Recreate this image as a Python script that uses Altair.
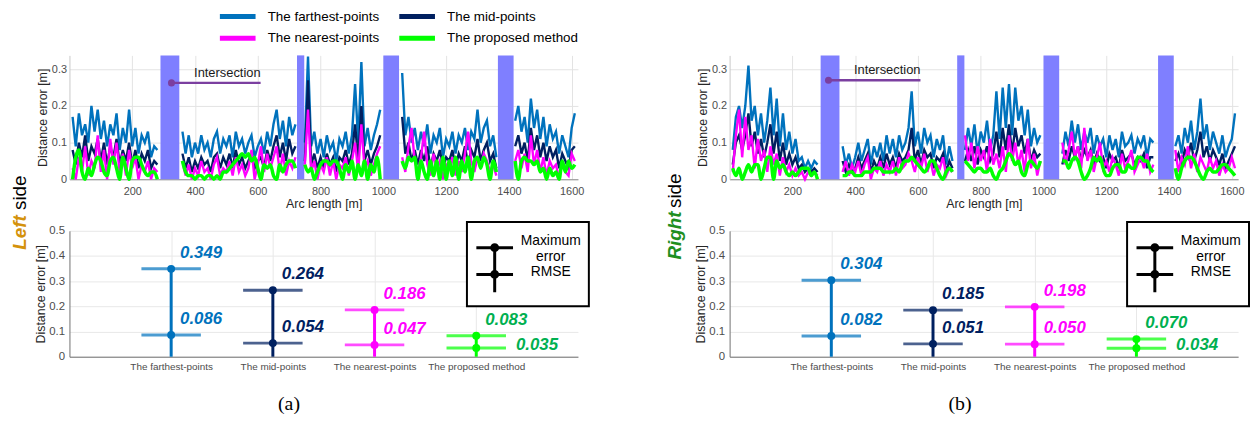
import json
import altair as alt
import pandas as pd

N = None
FONT = "Liberation Sans"

categories = ["The farthest-points", "The mid-points", "The nearest-points", "The proposed method"]
line_colors = ["#0072BD", "#002060", "#FF00FF", "#00FF00"]
label_colors = ["#0072BD", "#002060", "#FF00FF", "#00B050"]

arc_start = 10
arc_step = 10

# ---------------- (a) Left side: distance error along arc length ----------------
left_farthest = [
    0.17, 0.09, 0.18, 0.12, 0.15, 0.10, 0.20, 0.13, 0.19, 0.11,
    0.16, 0.09, 0.15, 0.12, 0.18, 0.08, 0.14, 0.10, 0.19, 0.09,
    0.14, 0.07, 0.12, 0.10, 0.13, 0.06, 0.09, 0.08, N, N,
    N, N, N, N, N, 0.13, 0.07, 0.12, 0.06, 0.10,
    0.07, 0.12, 0.08, 0.10, 0.06, 0.11, 0.13, 0.07, 0.11, 0.09,
    0.12, 0.06, 0.13, 0.09, 0.11, 0.07, 0.10, 0.12, 0.06, 0.09,
    0.11, 0.07, 0.13, 0.09, 0.15, 0.19, 0.11, 0.16, 0.09, 0.17,
    0.12, 0.15, N, N, 0.10, 0.335, 0.09, 0.13, 0.07, 0.11,
    0.06, 0.12, 0.08, 0.10, 0.05, 0.11, 0.09, 0.13, 0.07, 0.12,
    0.26, 0.10, 0.32, 0.09, 0.14, 0.08, 0.12, 0.15, 0.19, N,
    N, N, N, N, N, 0.29, 0.12, 0.17, 0.10, 0.14,
    0.08, 0.13, 0.09, 0.15, 0.07, 0.12, 0.10, 0.14, 0.06, 0.11,
    0.09, 0.13, 0.07, 0.12, 0.10, 0.14, 0.08, 0.13, 0.11, 0.19,
    0.10, 0.14, 0.16, 0.09, 0.12, 0.06, N, N, N, N,
    N, 0.16, 0.20, 0.13, 0.17, 0.10, 0.22, 0.14, 0.19, 0.11,
    0.17, 0.09, 0.15, 0.11, 0.13, 0.07, 0.12, 0.09, 0.06, 0.14,
    0.18,
]
left_mid = [
    0.08, 0.04, 0.10, 0.06, 0.12, 0.05, 0.09, 0.07, 0.11, 0.05,
    0.10, 0.04, 0.09, 0.06, 0.11, 0.04, 0.08, 0.05, 0.10, 0.04,
    0.08, 0.03, 0.07, 0.05, 0.08, 0.03, 0.05, 0.04, N, N,
    N, N, N, N, N, 0.07, 0.03, 0.06, 0.02, 0.05,
    0.03, 0.06, 0.04, 0.05, 0.02, 0.06, 0.07, 0.03, 0.06, 0.04,
    0.07, 0.03, 0.08, 0.04, 0.06, 0.03, 0.05, 0.07, 0.03, 0.05,
    0.06, 0.03, 0.08, 0.05, 0.09, 0.12, 0.06, 0.10, 0.05, 0.11,
    0.07, 0.09, N, N, 0.05, 0.27, 0.04, 0.07, 0.03, 0.06,
    0.03, 0.07, 0.04, 0.06, 0.02, 0.06, 0.05, 0.08, 0.04, 0.07,
    0.15, 0.05, 0.20, 0.05, 0.08, 0.04, 0.07, 0.09, 0.12, N,
    N, N, N, N, N, 0.17, 0.07, 0.10, 0.05, 0.08,
    0.04, 0.08, 0.05, 0.09, 0.03, 0.07, 0.05, 0.08, 0.03, 0.06,
    0.05, 0.08, 0.03, 0.07, 0.05, 0.09, 0.04, 0.08, 0.06, 0.11,
    0.05, 0.08, 0.10, 0.05, 0.07, 0.03, N, N, N, N,
    N, 0.09, 0.12, 0.07, 0.10, 0.05, 0.14, 0.08, 0.12, 0.06,
    0.10, 0.05, 0.09, 0.06, 0.08, 0.03, 0.07, 0.05, 0.03, 0.08,
    0.09,
]
left_nearest = [
    0.03, 0.00, 0.06, 0.02, 0.09, 0.01, 0.05, 0.03, 0.12, 0.02,
    0.08, 0.00, 0.11, 0.04, 0.10, 0.02, 0.07, 0.01, 0.08, 0.03,
    0.06, 0.00, 0.04, 0.02, 0.05, 0.00, 0.03, 0.02, N, N,
    N, N, N, N, N, 0.05, 0.01, 0.04, 0.00, 0.03,
    0.01, 0.05, 0.02, 0.03, 0.00, 0.04, 0.06, 0.01, 0.03, 0.02,
    0.05, 0.01, 0.06, 0.02, 0.04, 0.01, 0.03, 0.08, 0.00, 0.04,
    0.09, 0.02, 0.07, 0.03, 0.06, 0.09, 0.02, 0.07, 0.01, 0.05,
    0.03, 0.06, N, N, 0.04, 0.19, 0.02, 0.05, 0.00, 0.04,
    0.02, 0.06, 0.01, 0.05, 0.00, 0.04, 0.03, 0.06, 0.01, 0.05,
    0.10, 0.02, 0.15, 0.03, 0.05, 0.01, 0.04, 0.07, 0.09, N,
    N, N, N, N, N, 0.06, 0.02, 0.09, 0.14, 0.05,
    0.02, 0.06, 0.13, 0.04, 0.01, 0.07, 0.03, 0.05, 0.00, 0.04,
    0.03, 0.06, 0.01, 0.05, 0.02, 0.07, 0.13, 0.05, 0.02, 0.06,
    0.03, 0.07, 0.05, 0.02, 0.04, 0.01, N, N, N, N,
    N, 0.05, 0.08, 0.03, 0.07, 0.02, 0.12, 0.04, 0.08, 0.02,
    0.06, 0.01, 0.05, 0.03, 0.04, 0.00, 0.05, 0.02, 0.01, 0.07,
    0.05,
]
left_proposed = [
    0.00, 0.06, 0.08, 0.02, 0.00, 0.03, 0.01, 0.04, 0.06, 0.05,
    0.02, 0.01, 0.05, 0.06, 0.03, 0.00, 0.06, 0.03, 0.00, 0.05,
    0.06, 0.06, 0.04, 0.02, 0.01, 0.02, 0.02, 0.00, N, N,
    N, N, N, N, N, 0.05, 0.02, 0.01, 0.01, 0.00,
    0.01, 0.01, 0.00, 0.01, 0.01, 0.00, 0.01, 0.00, 0.02, 0.02,
    0.03, 0.04, 0.05, 0.06, 0.07, 0.06, 0.07, 0.05, 0.06, 0.03,
    0.00, 0.04, 0.03, 0.04, 0.01, 0.00, 0.04, 0.02, 0.04, 0.05,
    0.05, 0.03, N, N, 0.04, 0.02, 0.03, 0.00, 0.02, 0.04,
    0.05, 0.05, 0.04, 0.05, 0.05, 0.03, 0.00, 0.04, 0.02, 0.05,
    0.00, 0.04, 0.01, 0.05, 0.00, 0.04, 0.02, 0.06, 0.00, N,
    N, N, N, N, N, 0.05, 0.03, 0.06, 0.05, 0.06,
    0.00, 0.05, 0.02, 0.00, 0.05, 0.01, 0.05, 0.00, 0.06, 0.00,
    0.05, 0.01, 0.06, 0.00, 0.05, 0.02, 0.06, 0.00, 0.05, 0.06,
    0.03, 0.06, 0.04, 0.00, 0.05, 0.02, N, N, N, N,
    N, 0.05, 0.00, 0.05, 0.06, 0.05, 0.05, 0.04, 0.05, 0.02,
    0.03, 0.00, 0.03, 0.01, 0.02, 0.00, 0.05, 0.02, 0.05, 0.03,
    0.04,
]

# ---------------- (b) Right side ----------------
right_farthest = [
    0.08, 0.17, 0.20, 0.14, 0.20, 0.31, 0.16, 0.20, 0.12, 0.18,
    0.10, 0.16, 0.25, 0.12, 0.22, 0.09, 0.18, 0.08, 0.13, 0.07,
    0.11, 0.05, 0.06, 0.03, 0.05, 0.03, 0.05, 0.04, N, N,
    N, N, N, N, 0.05, 0.09, 0.04, 0.07, 0.03, 0.06,
    0.10, 0.05, 0.08, 0.11, 0.04, 0.09, 0.06, 0.10, 0.05, 0.12,
    0.07, 0.11, 0.06, 0.12, 0.08, 0.10, 0.14, 0.24, 0.09, 0.13,
    0.07, 0.14, 0.10, 0.12, 0.06, 0.11, 0.08, 0.12, 0.04, 0.09,
    0.05, N, N, 0.12, 0.08, 0.14, 0.09, 0.15, 0.07, 0.13,
    0.10, 0.16, 0.08, 0.12, 0.24, 0.11, 0.25, 0.14, 0.26, 0.12,
    0.25, 0.16, 0.20, 0.12, 0.19, 0.09, 0.14, 0.10, 0.12, N,
    N, N, N, N, 0.11, 0.07, 0.13, 0.09, 0.16, 0.10,
    0.15, 0.08, 0.13, 0.10, 0.14, 0.07, 0.12, 0.09, 0.11, 0.06,
    0.12, 0.08, 0.11, 0.06, 0.13, 0.09, 0.10, 0.12, 0.07, 0.11,
    0.09, 0.12, 0.06, 0.11, 0.10, N, N, N, N, N,
    0.15, 0.09, 0.12, 0.07, 0.14, 0.10, 0.16, 0.08, 0.13, 0.22,
    0.11, 0.15, 0.08, 0.13, 0.10, 0.07, 0.12, 0.06, 0.09, 0.11,
    0.18,
]
right_mid = [
    0.04, 0.10, 0.12, 0.08, 0.12, 0.18, 0.09, 0.13, 0.07, 0.11,
    0.06, 0.10, 0.15, 0.07, 0.13, 0.05, 0.10, 0.04, 0.07, 0.04,
    0.06, 0.03, 0.04, 0.02, 0.03, 0.02, 0.03, 0.02, N, N,
    N, N, N, N, 0.03, 0.05, 0.02, 0.04, 0.02, 0.03,
    0.06, 0.03, 0.05, 0.07, 0.02, 0.05, 0.03, 0.06, 0.03, 0.07,
    0.04, 0.06, 0.03, 0.07, 0.05, 0.06, 0.08, 0.14, 0.05, 0.08,
    0.04, 0.08, 0.06, 0.07, 0.03, 0.06, 0.05, 0.07, 0.02, 0.05,
    0.03, N, N, 0.07, 0.05, 0.08, 0.05, 0.09, 0.04, 0.08,
    0.06, 0.09, 0.05, 0.07, 0.13, 0.06, 0.14, 0.08, 0.15, 0.07,
    0.14, 0.09, 0.12, 0.07, 0.11, 0.05, 0.08, 0.06, 0.07, N,
    N, N, N, N, 0.06, 0.04, 0.08, 0.05, 0.09, 0.06,
    0.09, 0.05, 0.08, 0.06, 0.08, 0.04, 0.07, 0.05, 0.06, 0.03,
    0.07, 0.05, 0.06, 0.03, 0.08, 0.05, 0.06, 0.07, 0.04, 0.06,
    0.05, 0.07, 0.03, 0.06, 0.06, N, N, N, N, N,
    0.09, 0.05, 0.07, 0.04, 0.08, 0.06, 0.10, 0.05, 0.08, 0.13,
    0.06, 0.09, 0.05, 0.08, 0.06, 0.04, 0.07, 0.03, 0.05, 0.07,
    0.09,
]
right_nearest = [
    0.02, 0.12, 0.19, 0.06, 0.17, 0.08, 0.12, 0.03, 0.11, 0.05,
    0.08, 0.02, 0.09, 0.04, 0.07, 0.01, 0.06, 0.02, 0.04, 0.01,
    0.03, 0.01, 0.02, 0.00, 0.02, 0.01, 0.02, 0.01, N, N,
    N, N, N, N, 0.04, 0.02, 0.05, 0.01, 0.04, 0.02,
    0.05, 0.01, 0.04, 0.06, 0.00, 0.03, 0.02, 0.05, 0.01, 0.04,
    0.02, 0.05, 0.01, 0.06, 0.03, 0.04, 0.07, 0.05, 0.02, 0.06,
    0.03, 0.07, 0.02, 0.05, 0.01, 0.04, 0.03, 0.06, 0.01, 0.03,
    0.02, N, N, 0.04, 0.12, 0.05, 0.10, 0.03, 0.09, 0.05,
    0.08, 0.02, 0.11, 0.04, 0.07, 0.03, 0.09, 0.02, 0.12, 0.05,
    0.10, 0.04, 0.08, 0.02, 0.11, 0.03, 0.07, 0.01, 0.05, N,
    N, N, N, N, 0.03, 0.10, 0.04, 0.08, 0.13, 0.06,
    0.09, 0.03, 0.14, 0.05, 0.08, 0.02, 0.06, 0.10, 0.03, 0.05,
    0.02, 0.06, 0.04, 0.01, 0.07, 0.03, 0.05, 0.08, 0.02, 0.04,
    0.06, 0.03, 0.07, 0.02, 0.04, N, N, N, N, N,
    0.03, 0.08, 0.02, 0.06, 0.04, 0.09, 0.03, 0.07, 0.02, 0.06,
    0.04, 0.02, 0.06, 0.03, 0.05, 0.01, 0.04, 0.02, 0.03, 0.06,
    0.03,
]
right_proposed = [
    0.03, 0.01, 0.03, 0.00, 0.02, 0.04, 0.02, 0.04, 0.04, 0.00,
    0.03, 0.06, 0.06, 0.00, 0.05, 0.03, 0.04, 0.02, 0.01, 0.02,
    0.01, 0.02, 0.03, 0.03, 0.03, 0.01, 0.02, 0.00, N, N,
    N, N, N, N, 0.02, 0.01, 0.01, 0.02, 0.02, 0.01,
    0.01, 0.01, 0.02, 0.02, 0.02, 0.03, 0.03, 0.03, 0.02, 0.02,
    0.02, 0.02, 0.03, 0.02, 0.04, 0.05, 0.05, 0.06, 0.05, 0.04,
    0.03, 0.02, 0.03, 0.05, 0.05, 0.03, 0.01, 0.00, 0.02, 0.03,
    0.02, N, N, 0.05, 0.05, 0.04, 0.03, 0.02, 0.03, 0.03,
    0.02, 0.02, 0.03, 0.01, 0.00, 0.02, 0.03, 0.05, 0.07, 0.06,
    0.04, 0.05, 0.02, 0.01, 0.04, 0.05, 0.04, 0.03, 0.05, N,
    N, N, N, N, 0.06, 0.05, 0.05, 0.03, 0.05, 0.06,
    0.05, 0.02, 0.00, 0.01, 0.03, 0.06, 0.05, 0.06, 0.03, 0.01,
    0.01, 0.03, 0.04, 0.04, 0.02, 0.02, 0.04, 0.03, 0.03, 0.06,
    0.06, 0.05, 0.05, 0.03, 0.02, N, N, N, N, N,
    0.07, 0.03, 0.00, 0.03, 0.05, 0.06, 0.06, 0.05, 0.03, 0.01,
    0.00, 0.02, 0.03, 0.02, 0.02, 0.03, 0.04, 0.04, 0.03, 0.02,
    0.01,
]

# intersections (shaded bands)
left_band_start = [290, 725, 1000, 1365]
left_band_end = [350, 748, 1050, 1415]
right_band_start = [290, 725, 1000, 1365]
right_band_end = [350, 748, 1050, 1415]

# "Intersection" annotation: [dot x, line end x], line y, label y
left_note_x = [325, 609]
left_note_y = 0.263
left_note_text_y = 0.290
right_note_x = [315, 608]
right_note_y = 0.270
right_note_text_y = 0.297
note_text = "Intersection"

# summary statistics
left_max = [0.349, 0.264, 0.186, 0.083]
left_rmse = [0.086, 0.054, 0.047, 0.035]
right_max = [0.304, 0.185, 0.198, 0.070]
right_rmse = [0.082, 0.051, 0.050, 0.034]

x_ticks = [200, 400, 600, 800, 1000, 1200, 1400, 1600]
top_y_ticks = [0, 0.1, 0.2, 0.3]
bottom_y_ticks = [0, 0.1, 0.2, 0.3, 0.4, 0.5]
legend_entry = ["Maximum error RMSE"]
side_word = "side"

Y_LABEL = "datum.value == 0 ? '0' : format(datum.value, '.1f')"
PLOT_W = 513


def series_frame(value_lists, starts, ends):
    rows = []
    for name, vals in zip(categories, value_lists):
        for i, v in enumerate(vals):
            if v is None:
                continue
            a = arc_start + i * arc_step
            if any(s <= a <= e for s, e in zip(starts, ends)):
                continue
            seg = sum(1 for s in starts if s < a)
            rows.append({"arc": a, "value": v, "series": name, "seg": seg})
    return pd.DataFrame(rows)


def top_chart(value_lists, bstart, bend, note_x, ny, nty, show_legend):
    df = series_frame(value_lists, bstart, bend)
    bands = pd.DataFrame({"start": bstart, "end": bend})
    note = pd.DataFrame({"nx": note_x, "ny": [ny] * len(note_x)})
    note_dot = note.iloc[:1]
    note_lbl = pd.DataFrame({"tx": [note_x[-1]], "ty": [nty], "t": [note_text]})

    xs = alt.Scale(domain=[0, 1620], nice=False, zero=False)
    xaxis = alt.Axis(values=x_ticks, format="d", title="Arc length [m]", labelFont=FONT,
                     labelFontSize=11, labelColor="#4d4d4d", labelPadding=6, labelFlush=False,
                     titleFont=FONT, titleFontSize=12.5, titleFontWeight="normal",
                     titleColor="#262626", titlePadding=1, ticks=False, grid=True,
                     gridColor="#e3e3e3", domainColor="#8c8c8c")
    ys = alt.Scale(domain=[0, 0.338], nice=False, zero=True)
    yaxis = alt.Axis(values=top_y_ticks, labelExpr=Y_LABEL, title="Distance error [m]",
                     labelFont=FONT, labelFontSize=11, labelColor="#4d4d4d", labelPadding=3,
                     titleFont=FONT, titleFontSize=12.5, titleFontWeight="normal",
                     titleColor="#262626", titlePadding=2, ticks=False, grid=True,
                     gridColor="#e3e3e3", domainColor="#c8c8c8")

    def X(f):
        return alt.X(f, scale=xs, axis=xaxis)

    def Y(f):
        return alt.Y(f, scale=ys, axis=yaxis)

    cscale = alt.Scale(domain=categories, range=line_colors)
    if show_legend:
        leg = alt.Legend(title=None, orient="none", legendX=163, legendY=-46, columns=2,
                         direction="horizontal",
                         symbolType="M-6,0H6", symbolSize=36, symbolStrokeWidth=5,
                         symbolOpacity=1,
                         labelFont=FONT, labelFontSize=13.5, labelColor="black",
                         labelOffset=23.5, columnPadding=9, rowPadding=1, padding=0,
                         labelLimit=300)
    else:
        leg = None

    layers = [
        alt.Chart(bands).mark_rect(color="#7f7fff").encode(x=X("start:Q"), x2="end:Q")
    ]
    for name in categories:
        proposed = name == categories[-1]
        layers.append(
            alt.Chart(df).transform_filter(alt.datum.series == name)
            .mark_line(strokeWidth=3.5 if proposed else 2.4,
                       interpolate="monotone" if proposed else "linear")
            .encode(x=X("arc:Q"), y=Y("value:Q"),
                    color=alt.Color("series:N", scale=cscale, legend=leg),
                    detail="seg:N")
        )
    layers.append(alt.Chart(note).mark_line(color="#7b3fa0", strokeWidth=2.5)
                  .encode(x=X("nx:Q"), y=Y("ny:Q")))
    layers.append(alt.Chart(note_dot).mark_circle(color="#7b3fa0", size=50, opacity=1)
                  .encode(x=X("nx:Q"), y=Y("ny:Q")))
    layers.append(alt.Chart(note_lbl).mark_text(align="right", baseline="middle", font=FONT,
                                                fontSize=13, color="#1a1a1a")
                  .encode(x=X("tx:Q"), y=Y("ty:Q"), text="t:N"))
    return alt.layer(*layers).properties(width=PLOT_W, height=125)


def glyph_path():
    u = 10.0
    cx = 9 / u
    half = 18.5 / u
    c1 = 7 / u
    c2 = 34 / u
    bot = 52 / u
    r = 3 / u

    def circ(y):
        return (f"M{cx + r:.3f},{y:.3f}A{r:.3f},{r:.3f},0,1,1,{cx - r:.3f},{y:.3f}"
                f"A{r:.3f},{r:.3f},0,1,1,{cx + r:.3f},{y:.3f}Z")

    return (f"M{cx - half:.3f},{c1:.3f}H{cx + half:.3f}"
            f"M{cx - half:.3f},{c2:.3f}H{cx + half:.3f}"
            f"M{cx:.3f},{c1:.3f}V{bot:.3f}" + circ(c1) + circ(c2))


def bottom_chart(max_vals, rmse_vals, caption, caption_x,
                 side_name, side_color, side_x, side_y1, side_y2):
    df = pd.DataFrame({"category": categories,
                       "pos": list(range(1, len(categories) + 1)),
                       "max": max_vals, "rmse": rmse_vals})
    xs = alt.Scale(domain=[0, len(categories) + 1], nice=False, zero=False)
    xaxis = alt.Axis(values=list(range(1, len(categories) + 1)),
                     labelExpr=f"{json.dumps(categories)}[datum.value - 1]",
                     labelFont=FONT, labelFontSize=10, labelColor="#4d4d4d", labelPadding=5,
                     labelOverlap=False, labelFlush=False, ticks=False, grid=True,
                     gridColor="#e8e8e8", domainColor="#707070",
                     title=caption, titleFont="Liberation Serif", titleFontSize=20,
                     titleFontWeight="normal", titleColor="black", titleX=caption_x,
                     titleY=47, titleBaseline="middle", titleAlign="center")
    ys = alt.Scale(domain=[0, 0.5], nice=False)
    yaxis = alt.Axis(values=bottom_y_ticks, labelExpr=Y_LABEL, title="Distance error [m]",
                     labelFont=FONT, labelFontSize=11.5, labelColor="#4d4d4d", labelPadding=5,
                     titleFont=FONT, titleFontSize=12.5, titleFontWeight="normal",
                     titleColor="#262626", titlePadding=1, ticks=False, grid=True,
                     gridColor="#e8e8e8", domainColor="#707070")

    def X(f):
        return alt.X(f, scale=xs, axis=xaxis)

    def Y(f):
        return alt.Y(f, scale=ys, axis=yaxis)

    lc = alt.Color("category:N", scale=alt.Scale(domain=categories, range=line_colors), legend=None)
    tc = alt.Color("category:N", scale=alt.Scale(domain=categories, range=label_colors), legend=None)
    base = alt.Chart(df)
    txt = dict(align="left", baseline="middle", font=FONT, fontSize=17,
               fontWeight="bold", fontStyle="italic")
    last = len(categories)

    layers = [
        base.transform_calculate(base0="0").mark_rule(strokeWidth=3)
        .encode(x=X("pos:Q"), y=Y("base0:Q"), y2="max:Q", color=lc),
        base.mark_tick(orient="horizontal", size=60, thickness=3)
        .encode(x=X("pos:Q"), y=Y("max:Q"), color=lc),
        base.mark_tick(orient="horizontal", size=60, thickness=3)
        .encode(x=X("pos:Q"), y=Y("rmse:Q"), color=lc),
        base.mark_circle(size=64, opacity=1).encode(x=X("pos:Q"), y=Y("max:Q"), color=lc),
        base.mark_circle(size=64, opacity=1).encode(x=X("pos:Q"), y=Y("rmse:Q"), color=lc),
        base.mark_text(dx=9, dy=-16, **txt)
        .encode(x=X("pos:Q"), y=Y("max:Q"), text=alt.Text("max:Q", format=".3f"), color=tc),
        base.transform_filter(alt.datum.pos < last).mark_text(dx=9, dy=-16, **txt)
        .encode(x=X("pos:Q"), y=Y("rmse:Q"), text=alt.Text("rmse:Q", format=".3f"), color=tc),
        base.transform_filter(alt.datum.pos == last).mark_text(dx=40, dy=-3, **txt)
        .encode(x=X("pos:Q"), y=Y("rmse:Q"), text=alt.Text("rmse:Q", format=".3f"), color=tc),
        alt.Chart(pd.DataFrame({"kind": legend_entry})).transform_filter("false")
        .mark_point(filled=False, color="black", strokeWidth=3)
        .encode(shape=alt.Shape("kind:N",
                                scale=alt.Scale(domain=legend_entry, range=[glyph_path()]),
                                legend=alt.Legend(title=None, orient="none", legendX=401,
                                                  legendY=-9, padding=7.5, strokeColor="black",
                                                  fillColor="white", symbolSize=400,
                                                  symbolStrokeWidth=3, symbolOpacity=1,
                                                  symbolStrokeColor="black",
                                                  symbolFillColor="black",
                                                  labelExpr="split(datum.label, ' ')",
                                                  labelAlign="center", labelOffset=54,
                                                  labelFont=FONT, labelFontSize=14,
                                                  labelColor="black", labelLimit=300))),
        alt.Chart(pd.DataFrame({"t": [side_name]}))
        .mark_text(angle=270, align="left", baseline="middle", font=FONT, fontSize=19,
                   fontWeight="bold", fontStyle="italic", color=side_color)
        .encode(x=alt.value(side_x), y=alt.value(side_y1), text="t:N"),
        alt.Chart(pd.DataFrame({"t": [side_word]}))
        .mark_text(angle=270, align="left", baseline="middle", font=FONT, fontSize=19,
                   color="black")
        .encode(x=alt.value(side_x), y=alt.value(side_y2), text="t:N"),
    ]
    return alt.layer(*layers).resolve_scale(color="independent").properties(width=PLOT_W, height=127)


lt = top_chart([left_farthest, left_mid, left_nearest, left_proposed],
               left_band_start, left_band_end, left_note_x, left_note_y, left_note_text_y, True)
rt = top_chart([right_farthest, right_mid, right_nearest, right_proposed],
               right_band_start, right_band_end, right_note_x, right_note_y, right_note_text_y,
               False)
lb = bottom_chart(left_max, left_rmse, "(a)", 221, "Left", "#D4920B", -50, 19, -21)
rb = bottom_chart(right_max, right_rmse, "(b)", 232, "Right", "#1F8F1F", -55, 29, -23)

chart = (
    alt.concat(lt, rt, lb, rb, columns=2, spacing={"row": 52, "column": 153}, bounds="flush")
    .resolve_scale(color="independent", shape="independent")
    .resolve_legend(color="independent", shape="independent")
    .properties(padding={"left": 3, "top": 0, "right": 0, "bottom": 0})
    .configure_view(stroke=None)
    .configure_legend(strokeWidth=2)
)

chart.save("out.html", embed_options={"renderer": "svg", "actions": False})
